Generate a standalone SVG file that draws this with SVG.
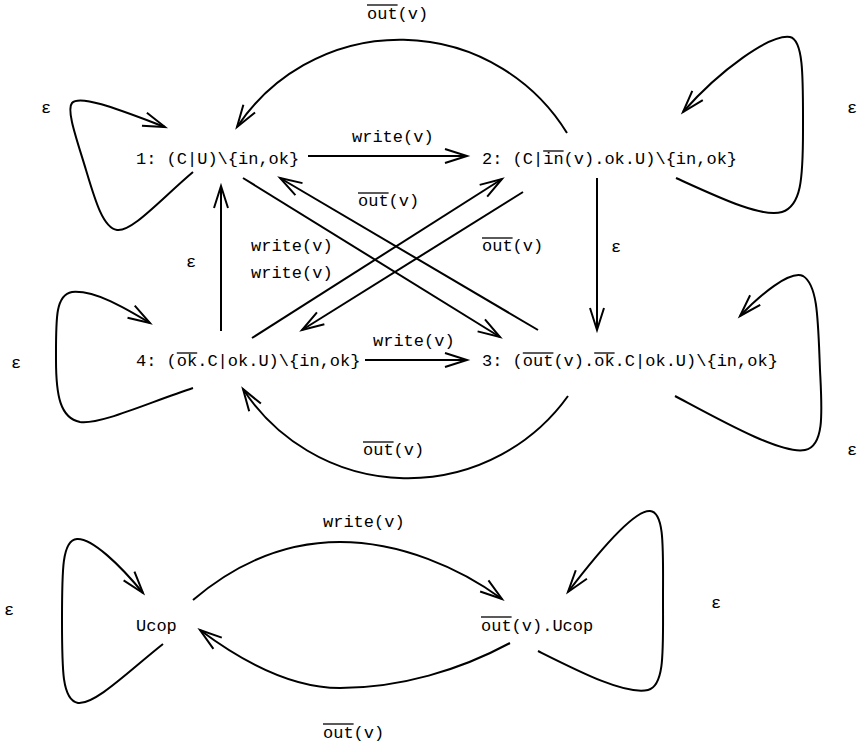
<svg xmlns="http://www.w3.org/2000/svg" width="861" height="744" viewBox="0 0 861 744">
  <style>
    .t { font-family: "Liberation Mono", "Courier New", monospace; font-size: 17px; fill: #000; }
    .ov { stroke: #000; stroke-width: 1.3; }
    .e { fill: none; stroke: #000; stroke-width: 2; marker-end: url(#arr); }
    .loop { fill: none; stroke: #000; stroke-width: 2; marker-end: url(#arr); }
  </style>
  <defs>
    <marker id="arr" viewBox="-24 -10 28 20" markerWidth="28" markerHeight="20" refX="0" refY="0" orient="auto" markerUnits="userSpaceOnUse">
      <path d="M-22,-7 L0,0 L-22,7" fill="none" stroke="#000" stroke-width="2"/>
    </marker>
  </defs>
  <rect width="861" height="744" fill="#fff"/>

  <!-- transitions -->
  <g id="connectors">
    <!-- 1 -> 2 -->
    <path class="e" d="M308,156 L467,156"/>
    <!-- 4 -> 3 -->
    <path class="e" d="M365,360 L467,360"/>
    <!-- 4 -> 1 -->
    <path class="e" d="M221,331 L221,186"/>
    <!-- 2 -> 3 -->
    <path class="e" d="M597,178 L597,330"/>
    <!-- diagonals -->
    <path class="e" d="M243,178 L500,337"/>
    <path class="e" d="M538,330 L280,178"/>
    <path class="e" d="M252,338 L502,179"/>
    <path class="e" d="M523,192 L302,330"/>
    <!-- 2 -> 1 over the top -->
    <path class="e" d="M567,133 A196,196 0 0 0 237,127"/>
    <!-- 3 -> 4 underneath -->
    <path class="e" d="M568,396 A197,197 0 0 1 243,389"/>
    <!-- self loops, upper system -->
    <path class="loop" d="M193,172 C160,200 132,232 117,230 C103,228 95,200 86,170 C77,140 66,110 72,103 C80,94 120,110 165,127"/>
    <path class="loop" d="M676,178 C720,198 762,218 782,212 C801,206 803,180 803,130 C803,80 804,40 790,37 C770,34 720,70 683,112"/>
    <path class="loop" d="M675,396 C720,420 782,455 805,450 C825,446 822,410 820,370 C818,320 818,285 803,276 C790,270 760,295 740,316"/>
    <path class="loop" d="M193,388 C150,402 100,425 80,422 C60,418 56,395 56,360 C56,320 55,295 72,292 C95,290 125,308 150,323"/>
    <!-- lower system -->
    <path class="e" d="M193,600 C240,560 290,542 340,542 C400,542 460,568 502,599"/>
    <path class="e" d="M510,643 C460,670 400,688 340,688 C290,688 240,660 200,630"/>
    <path class="loop" d="M163,644 C130,670 95,705 78,703 C62,700 62,670 62,620 C62,570 62,540 77,539 C92,538 120,565 143,593"/>
    <path class="loop" d="M538,651 C580,672 625,695 648,690 C665,686 663,650 663,600 C663,550 665,512 650,511 C635,510 600,550 568,592"/>
  </g>

  <!-- transition labels -->
  <g id="labels">
    <text class="t" x="367" y="19">out(v)</text>
    <line class="ov" x1="367" y1="5" x2="397.6" y2="5"/>
    <text class="t" x="352" y="142">write(v)</text>
    <text class="t" x="358" y="206">out(v)</text>
    <line class="ov" x1="358" y1="193" x2="388.6" y2="193"/>
    <text class="t" x="251" y="251">write(v)</text>
    <text class="t" x="251" y="278">write(v)</text>
    <text class="t" x="482" y="251">out(v)</text>
    <line class="ov" x1="482" y1="238" x2="512.6" y2="238"/>
    <text class="t" x="373" y="346">write(v)</text>
    <text class="t" x="363" y="455">out(v)</text>
    <line class="ov" x1="363" y1="442" x2="393.6" y2="442"/>
    <text class="t" x="41" y="113">ε</text>
    <text class="t" x="847" y="113">ε</text>
    <text class="t" x="186" y="267">ε</text>
    <text class="t" x="611" y="252">ε</text>
    <text class="t" x="11" y="368">ε</text>
    <text class="t" x="847" y="455">ε</text>
    <text class="t" x="323" y="527">write(v)</text>
    <text class="t" x="323" y="738">out(v)</text>
    <line class="ov" x1="323" y1="724" x2="353.6" y2="724"/>
    <text class="t" x="4" y="615">ε</text>
    <text class="t" x="711" y="608">ε</text>
  </g>

  <!-- states -->
  <g id="n1">
    <text class="t" x="136" y="164">1: (C|U)\{in,ok}</text>
  </g>
  <g id="n2">
    <text class="t" x="482" y="164">2: (C|in(v).ok.U)\{in,ok}</text>
    <line class="ov" x1="543.2" y1="151" x2="563.6" y2="151"/>
  </g>
  <g id="n3">
    <text class="t" x="482" y="366">3: (out(v).ok.C|ok.U)\{in,ok}</text>
    <line class="ov" x1="522.8" y1="353" x2="553.4" y2="353"/>
    <line class="ov" x1="594.2" y1="353" x2="614.6" y2="353"/>
  </g>
  <g id="n4">
    <text class="t" x="136" y="366">4: (ok.C|ok.U)\{in,ok}</text>
    <line class="ov" x1="176.8" y1="353" x2="197.2" y2="353"/>
  </g>
  <g id="ucop">
    <text class="t" x="136" y="631">Ucop</text>
  </g>
  <g id="outucop">
    <text class="t" x="481" y="631">out(v).Ucop</text>
    <line class="ov" x1="481" y1="617" x2="511.6" y2="617"/>
  </g>
</svg>
